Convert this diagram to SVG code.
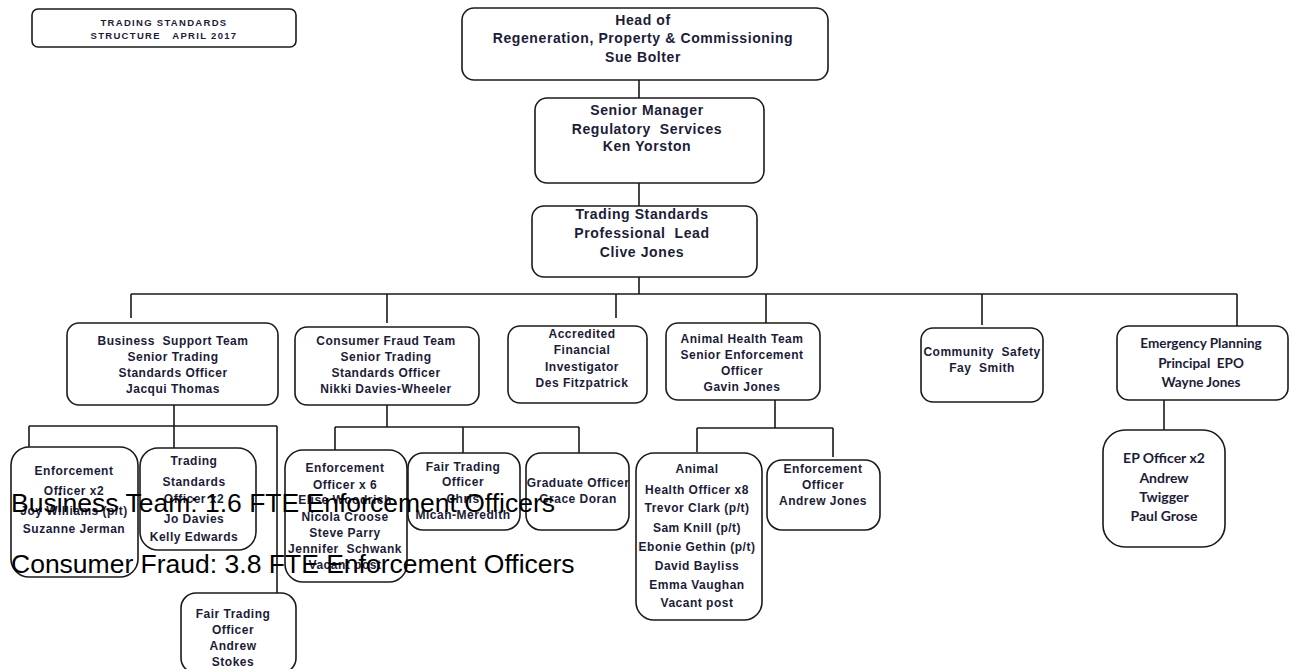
<svg xmlns="http://www.w3.org/2000/svg" width="1296" height="669" viewBox="0 0 1296 669">
<style>
.box{fill:#fff;stroke:#1a1a1a;stroke-width:1.6}
.t{font-family:"Liberation Sans",Arial,sans-serif;font-weight:bold;font-size:12px;letter-spacing:0.5px;fill:#1c1c38;text-anchor:middle}
.h{font-size:14px;letter-spacing:0.6px}
.c{font-family:Lato,"Liberation Sans",sans-serif;font-size:13.5px;letter-spacing:0}
.title{font-family:"Liberation Sans",Arial,sans-serif;font-weight:bold;font-size:9.5px;letter-spacing:1.3px;fill:#1c1c38;text-anchor:middle}
.note{font-family:"Liberation Sans",Arial,sans-serif;font-size:26.5px;fill:#000}
#connectors path{fill:none;stroke:#1a1a1a;stroke-width:1.6}
</style>
<rect width="1296" height="669" fill="#fff"/>
<g id="connectors">
<path d="M639 80V98M639 183V207M639 277V294M131 294H1237"/>
<path d="M131 294V318M387 294V323M616 294V318M766 294V323M982 294V325M1237 294V326"/>
<path d="M174 405V448M29 426H277M29 426V447M277 426V593"/>
<path d="M387 405V427M335 427H579M335 427V450M463 427V453M579 427V453"/>
<path d="M775 400V428M697 428H833M697 428V452M833 428V457"/>
<path d="M1164 400V430"/>
</g>
<g id="title">
<rect class="box" x="32" y="9" width="264" height="38" rx="6"/>
<text class="title" x="164" y="25.5">TRADING STANDARDS</text>
<text class="title" x="164" y="39" xml:space="preserve">STRUCTURE   APRIL 2017</text>
</g>
<g id="head">
<rect class="box" x="462" y="8" width="366" height="72" rx="12"/>
<text class="t h" x="643" y="25">Head of</text>
<text class="t h" x="643" y="42.5">Regeneration, Property &amp; Commissioning</text>
<text class="t h" x="643" y="62">Sue Bolter</text>
</g>
<g id="senior-manager">
<rect class="box" x="535" y="98" width="229" height="85" rx="12"/>
<text class="t h" x="647" y="115">Senior Manager</text>
<text class="t h" x="647" y="134" xml:space="preserve">Regulatory  Services</text>
<text class="t h" x="647" y="151">Ken Yorston</text>
</g>
<g id="ts-lead">
<rect class="box" x="532" y="206" width="225" height="71" rx="12"/>
<text class="t h" x="642" y="219">Trading Standards</text>
<text class="t h" x="642" y="237.5" xml:space="preserve">Professional  Lead</text>
<text class="t h" x="642" y="257">Clive Jones</text>
</g>
<g id="business-support">
<rect class="box" x="67" y="323" width="211" height="82" rx="12"/>
<text class="t" x="173" y="345" xml:space="preserve">Business  Support Team</text>
<text class="t" x="173" y="361">Senior Trading</text>
<text class="t" x="173" y="377">Standards Officer</text>
<text class="t" x="173" y="393">Jacqui Thomas</text>
</g>
<g id="consumer-fraud">
<rect class="box" x="295" y="327" width="184" height="78" rx="12"/>
<text class="t" x="386" y="345">Consumer Fraud Team</text>
<text class="t" x="386" y="361">Senior Trading</text>
<text class="t" x="386" y="377">Standards Officer</text>
<text class="t" x="386" y="393">Nikki Davies-Wheeler</text>
</g>
<g id="accredited">
<rect class="box" x="508" y="326" width="139" height="77" rx="12"/>
<text class="t" x="582" y="338">Accredited</text>
<text class="t" x="582" y="354">Financial</text>
<text class="t" x="582" y="371">Investigator</text>
<text class="t" x="582" y="387">Des Fitzpatrick</text>
</g>
<g id="animal-health">
<rect class="box" x="666" y="323" width="154" height="77" rx="12"/>
<text class="t" x="742" y="343">Animal Health Team</text>
<text class="t" x="742" y="359">Senior Enforcement</text>
<text class="t" x="742" y="375">Officer</text>
<text class="t" x="742" y="391">Gavin Jones</text>
</g>
<g id="community-safety">
<rect class="box" x="921" y="328" width="122" height="74" rx="12"/>
<text class="t" x="982" y="356" xml:space="preserve">Community  Safety</text>
<text class="t" x="982" y="372" xml:space="preserve">Fay  Smith</text>
</g>
<g id="emergency-planning">
<rect class="box" x="1117" y="326" width="171" height="74" rx="12"/>
<text class="t c" x="1201" y="348">Emergency Planning</text>
<text class="t c" x="1201" y="368" xml:space="preserve">Principal  EPO</text>
<text class="t c" x="1201" y="387">Wayne Jones</text>
</g>
<g id="bs-enforcement">
<rect class="box" x="11" y="447" width="127" height="130" rx="18"/>
<text class="t" x="74" y="475">Enforcement</text>
<text class="t" x="74" y="495">Officer x2</text>
<text class="t" x="74" y="515">Joy Williams (p/t)</text>
<text class="t" x="74" y="533">Suzanne Jerman</text>
</g>
<g id="bs-ts-officer">
<rect class="box" x="140" y="448" width="116" height="102" rx="18"/>
<text class="t" x="194" y="465">Trading</text>
<text class="t" x="194" y="486">Standards</text>
<text class="t" x="194" y="503">Officer x2</text>
<text class="t" x="194" y="523">Jo Davies</text>
<text class="t" x="194" y="541">Kelly Edwards</text>
</g>
<g id="bs-fair-trading">
<rect class="box" x="181" y="593" width="115" height="80" rx="15"/>
<text class="t" x="233" y="618">Fair Trading</text>
<text class="t" x="233" y="634">Officer</text>
<text class="t" x="233" y="650">Andrew</text>
<text class="t" x="233" y="666">Stokes</text>
</g>
<g id="cf-enforcement">
<rect class="box" x="285" y="450" width="122" height="132" rx="18"/>
<text class="t" x="345" y="472">Enforcement</text>
<text class="t" x="345" y="488.5">Officer x 6</text>
<text class="t" x="345" y="504">Elise Woodrich</text>
<text class="t" x="345" y="521">Nicola Croose</text>
<text class="t" x="345" y="537">Steve Parry</text>
<text class="t" x="345" y="552.5" xml:space="preserve">Jennifer  Schwank</text>
<text class="t" x="345" y="569">Vacant post</text>
</g>
<g id="cf-fair-trading">
<rect class="box" x="408" y="453" width="112" height="77" rx="15"/>
<text class="t" x="463" y="471">Fair Trading</text>
<text class="t" x="463" y="486">Officer</text>
<text class="t" x="463" y="503">Chris</text>
<text class="t" x="463" y="519">Micah-Meredith</text>
</g>
<g id="cf-graduate">
<rect class="box" x="526" y="453" width="103" height="77" rx="15"/>
<text class="t" x="578" y="487">Graduate Officer</text>
<text class="t" x="578" y="503">Grace Doran</text>
</g>
<g id="ah-officers">
<rect class="box" x="636" y="453" width="126" height="167" rx="18"/>
<text class="t" x="697" y="473">Animal</text>
<text class="t" x="697" y="494">Health Officer x8</text>
<text class="t" x="697" y="512">Trevor Clark (p/t)</text>
<text class="t" x="697" y="532">Sam Knill (p/t)</text>
<text class="t" x="697" y="551">Ebonie Gethin (p/t)</text>
<text class="t" x="697" y="570">David Bayliss</text>
<text class="t" x="697" y="589">Emma Vaughan</text>
<text class="t" x="697" y="607">Vacant post</text>
</g>
<g id="ah-enforcement">
<rect class="box" x="767" y="460" width="113" height="70" rx="15"/>
<text class="t" x="823" y="473">Enforcement</text>
<text class="t" x="823" y="489">Officer</text>
<text class="t" x="823" y="505">Andrew Jones</text>
</g>
<g id="ep-officers">
<rect class="box" x="1103" y="430" width="122" height="117" rx="22"/>
<text class="t c" x="1164" y="463" style="font-size:14px">EP Officer x2</text>
<text class="t c" x="1164" y="483" style="font-size:14px">Andrew</text>
<text class="t c" x="1164" y="502" style="font-size:14px">Twigger</text>
<text class="t c" x="1164" y="521" style="font-size:14px">Paul Grose</text>
</g>
<g id="notes">
<text class="note" x="11" y="512">Business Team: 1.6 FTE Enforcement Officers</text>
<text class="note" x="11" y="573">Consumer Fraud: 3.8 FTE Enforcement Officers</text>
</g>
</svg>
